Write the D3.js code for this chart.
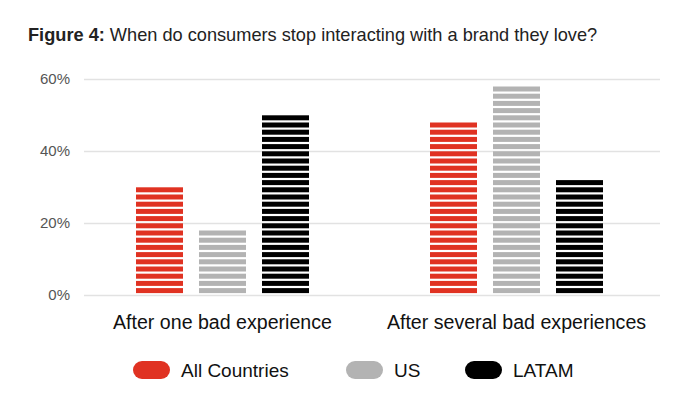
<!DOCTYPE html>
<html>
<head>
<meta charset="utf-8">
<script src="https://cdn.jsdelivr.net/npm/d3@7"></script>
<style>
  body { margin: 0; background: #fff; }
  svg { display: block; font-family: "Liberation Sans", Arial, Helvetica, sans-serif; }
</style>
</head>
<body>
<svg id="chart"></svg>
<script>
// chart data
const categories = ["After one bad experience", "After several bad experiences"];
const seriesNames = ["All Countries", "US", "LATAM"];
const allCountries = [30, 48];
const us = [18, 58];
const latam = [50, 32];
const yTicks = [0, 20, 40, 60];
const colors = ["#e03222", "#b3b3b3", "#000000"];

const width = 692, height = 399;
const margin = { top: 79, right: 32, bottom: 104, left: 84 };

const svg = d3.select("#chart")
    .attr("width", width)
    .attr("height", height);

// title
const title = svg.append("text")
    .attr("x", 28)
    .attr("y", 41)
    .attr("fill", "#222")
    .style("font-size", "18.2px");
title.append("tspan").attr("font-weight", "bold").text("Figure 4: ");
title.append("tspan").text("When do consumers stop interacting with a brand they love?");

const x0 = d3.scaleBand()
    .domain(categories)
    .range([75.5, 663.5]);

const groupWidth = 173;
const x1 = d3.scaleBand()
    .domain(seriesNames)
    .range([0, groupWidth])
    .paddingInner(0.254);

const y = d3.scaleLinear()
    .domain([0, 60])
    .range([height - margin.bottom, margin.top]);

// grid + y labels
const yAxis = svg.append("g")
    .attr("transform", `translate(${margin.left},0)`)
    .call(d3.axisLeft(y).tickValues(yTicks).tickFormat(d => d + "%")
        .tickSize(-(width - margin.right - margin.left)).tickPadding(14));
yAxis.select(".domain").remove();
yAxis.selectAll(".tick line").attr("stroke", "#e2e2e2").attr("stroke-width", 1.3);
yAxis.selectAll(".tick text")
    .attr("fill", "#555")
    .style("font-size", "15px")
    .style("font-family", "'Liberation Sans', Arial, sans-serif");

const rows = categories.map((c, i) => ({
    category: c,
    values: [allCountries[i], us[i], latam[i]].map((v, j) => ({ name: seriesNames[j], value: v, color: colors[j] }))
}));

const groups = svg.append("g")
    .selectAll("g")
    .data(rows)
    .join("g")
    .attr("transform", d => `translate(${x0(d.category) + x0.bandwidth() / 2 - groupWidth / 2},0)`);

// each bar is drawn as horizontal stripes, one per 2%
const bars = groups.selectAll("g")
    .data(d => d.values)
    .join("g")
    .attr("transform", d => `translate(${x1(d.name)},0)`);

bars.selectAll("rect")
    .data(d => d3.range(0, d.value, 2).map(k => ({ k, color: d.color })))
    .join("rect")
    .attr("x", 0)
    .attr("width", x1.bandwidth())
    .attr("y", d => y(d.k + 2) + 0.3)
    .attr("height", d => y(d.k) - y(d.k + 2) - 2.2)
    .attr("fill", d => d.color);

// category labels
svg.append("g")
    .selectAll("text")
    .data(categories)
    .join("text")
    .attr("x", d => x0(d) + x0.bandwidth() / 2)
    .attr("y", 329)
    .attr("text-anchor", "middle")
    .attr("fill", "#111")
    .style("font-size", "19.6px")
    .text(d => d);

// legend
const legendX = [133, 346, 465];
const legend = svg.append("g")
    .selectAll("g")
    .data(seriesNames)
    .join("g")
    .attr("transform", (d, i) => `translate(${legendX[i]},361)`);

legend.append("rect")
    .attr("width", 37)
    .attr("height", 18)
    .attr("rx", 9)
    .attr("fill", (d, i) => colors[i]);

legend.append("text")
    .attr("x", 48)
    .attr("y", 16)
    .attr("fill", "#111")
    .style("font-size", "19px")
    .text(d => d);
</script>
</body>
</html>
